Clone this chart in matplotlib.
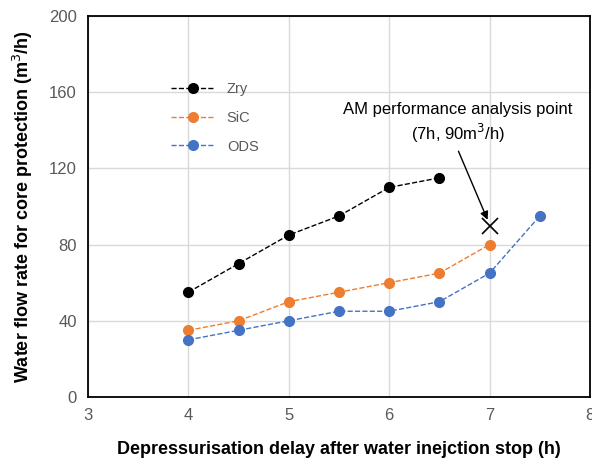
import numpy as np
import matplotlib.pyplot as plt

plt.rcParams['font.family'] = ['Liberation Sans', 'DejaVu Sans']

# data
zry_x = [4, 4.5, 5, 5.5, 6, 6.5]
zry_y = [55, 70, 85, 95, 110, 115]
sic_x = [4, 4.5, 5, 5.5, 6, 6.5, 7]
sic_y = [35, 40, 50, 55, 60, 65, 80]
ods_x = [4, 4.5, 5, 5.5, 6, 6.5, 7, 7.5]
ods_y = [30, 35, 40, 45, 45, 50, 65, 95]
am_point = (7, 90)

fig = plt.figure(figsize=(5.92, 4.67), dpi=100)
ax = fig.add_axes([0.1486, 0.1499, 0.848, 0.816])

ax.plot(zry_x, zry_y, '--o', color='black', lw=1, ms=7, label='Zry')
ax.plot(sic_x, sic_y, '--o', color='#ED7D31', lw=1, ms=7, label='SiC')
ax.plot(ods_x, ods_y, '--o', color='#4472C4', lw=1, ms=7, label='ODS')
ax.plot([am_point[0]], [am_point[1]], 'x', color='black', ms=11, mew=1.2)

ax.text(6.685, 143.5, 'AM performance analysis point\n(7h, 90m$^3$/h)',
        ha='center', va='center', fontsize=12, linespacing=1.25)
ax.annotate('', xy=(am_point[0] - 0.02, am_point[1] + 3), xytext=(6.69, 129),
            arrowprops=dict(arrowstyle='-|>', color='black', lw=1,
                            shrinkA=0, shrinkB=0, mutation_scale=12))

ax.set_xlim(3, 8)
ax.set_ylim(0, 200)
ax.set_xticks([3, 4, 5, 6, 7, 8])
ax.set_yticks([0, 40, 80, 120, 160, 200])
ax.grid(True, color='#D9D9D9', lw=1)
ax.set_axisbelow(True)
for s in ax.spines.values():
    s.set_color('black')
    s.set_linewidth(1.3)
ax.tick_params(length=0, labelsize=12, colors='#595959', pad=8)

ax.set_xlabel('Depressurisation delay after water inejction stop (h)',
              fontsize=13, fontweight='bold', labelpad=13)
ax.set_ylabel('Water flow rate for core protection (m$^3$/h)',
              fontsize=13, fontweight='bold', labelpad=10)

leg = ax.legend(loc='upper left', bbox_to_anchor=(0.14, 0.86), frameon=False,
                handlelength=3.0, labelspacing=1.0, fontsize=10.5)
for t in leg.get_texts():
    t.set_color('#595959')

fig.savefig('out.png', dpi=100)
